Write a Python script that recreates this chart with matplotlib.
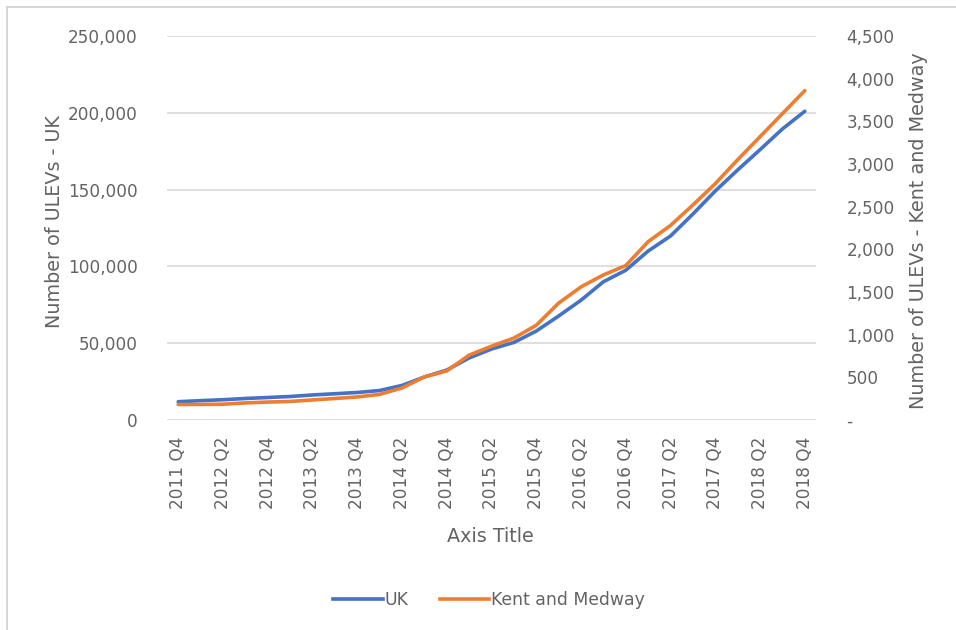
import numpy as np
import matplotlib
matplotlib.use("Agg")
import matplotlib.pyplot as plt
from matplotlib.lines import Line2D
from matplotlib.ticker import FuncFormatter

# Quarterly ULEV counts
quarters = [
    "2011 Q4", "2012 Q1", "2012 Q2", "2012 Q3", "2012 Q4",
    "2013 Q1", "2013 Q2", "2013 Q3", "2013 Q4",
    "2014 Q1", "2014 Q2", "2014 Q3", "2014 Q4",
    "2015 Q1", "2015 Q2", "2015 Q3", "2015 Q4",
    "2016 Q1", "2016 Q2", "2016 Q3", "2016 Q4",
    "2017 Q1", "2017 Q2", "2017 Q3", "2017 Q4",
    "2018 Q1", "2018 Q2", "2018 Q3", "2018 Q4",
]
uk = [
    11900, 12600, 13200, 14000, 14650, 15300, 16300, 17100, 17900,
    19200, 22500, 28000, 32500, 40400, 46200, 50500, 57900,
    67700, 78000, 90000, 97500, 110000, 119800, 134100, 149100,
    162800, 176000, 189500, 201000,
]
kent_medway = [
    182, 182, 185, 200, 210, 217, 235, 252, 270,
    300, 375, 505, 575, 760, 865, 960, 1110,
    1370, 1560, 1700, 1810, 2090, 2280, 2520, 2770,
    3050, 3320, 3590, 3860,
]
left_ticks = [0, 50000, 100000, 150000, 200000, 250000]
right_ticks = [0, 500, 1000, 1500, 2000, 2500, 3000, 3500, 4000, 4500]

BLUE = "#4472C4"
ORANGE = "#ED7D31"
TEXT = "#636363"
GRID = "#D9D9D9"

plt.rcParams["font.family"] = ["DejaVu Sans"]

W, H = 956, 630
fig = plt.figure(figsize=(W / 100, H / 100), dpi=100)
fig.patch.set_facecolor("white")

# plot area in pixel coordinates
px0, px1, py0, py1 = 167, 816, 36, 420
ax = fig.add_axes([px0 / W, 1 - py1 / H, (px1 - px0) / W, (py1 - py0) / H])
ax2 = ax.twinx()

x = np.arange(len(quarters))
ax.set_xlim(-0.5, len(quarters) - 0.5)
ax.set_ylim(left_ticks[0], left_ticks[-1])
ax2.set_ylim(right_ticks[0], right_ticks[-1])

ax.set_yticks(left_ticks)
ax.yaxis.set_major_formatter(FuncFormatter(lambda v, p: f"{int(v):,}"))
ax2.set_yticks(right_ticks)
ax2.yaxis.set_major_formatter(
    FuncFormatter(lambda v, p: "-" if v == 0 else f"{int(v):,}"))

ax.set_xticks(x[::2])
ax.set_xticklabels(quarters[::2], rotation=90)

ax.grid(axis="y", color=GRID, linewidth=1.2)
ax.set_axisbelow(True)
for a in (ax, ax2):
    for s in a.spines.values():
        s.set_visible(False)

ax.tick_params(axis="y", length=0, pad=21, labelsize=12.2, labelcolor=TEXT)
ax.tick_params(axis="x", length=0, pad=12, labelsize=12.2, labelcolor=TEXT)
ax2.tick_params(axis="y", length=0, pad=22, labelsize=12.2, labelcolor=TEXT)
for lab in ax2.get_yticklabels():
    lab.set_horizontalalignment("left")

ax.plot(x, uk, color=BLUE, linewidth=2.6, solid_capstyle="round",
        solid_joinstyle="round", zorder=3)
ax2.plot(x, kent_medway, color=ORANGE, linewidth=2.6, solid_capstyle="round",
         solid_joinstyle="round", zorder=3)

# axis titles
fig.text(55 / W, 1 - 222 / H, "Number of ULEVs - UK", rotation=90,
         ha="center", va="center", fontsize=13.8, color=TEXT)
fig.text(918 / W, 1 - 231 / H, "Number of ULEVs - Kent and Medway",
         rotation=90, ha="center", va="center", fontsize=13.8, color=TEXT)
fig.text(490 / W, 1 - 536 / H, "Axis Title", ha="center", va="center",
         fontsize=13.8, color=TEXT)

# legend
handles = [Line2D([], [], color=BLUE, linewidth=2.6),
           Line2D([], [], color=ORANGE, linewidth=2.6)]
leg = fig.legend(handles, ["UK", "Kent and Medway"], loc="center",
                 bbox_to_anchor=(489 / W, 1 - 600 / H), ncol=2, frameon=False,
                 fontsize=12.4, handlelength=2.9, handletextpad=0.1,
                 columnspacing=1.8)
for t in leg.get_texts():
    t.set_color(TEXT)

# chart frame edges
fig.add_artist(Line2D([7 / W, 7 / W], [0, 1 - 7 / H], color="#D0D0D0",
                      linewidth=1.2, transform=fig.transFigure))
fig.add_artist(Line2D([7 / W, 1], [1 - 7 / H, 1 - 7 / H], color="#D0D0D0",
                      linewidth=1.2, transform=fig.transFigure))

fig.savefig("out.png", dpi=100, facecolor="white")
